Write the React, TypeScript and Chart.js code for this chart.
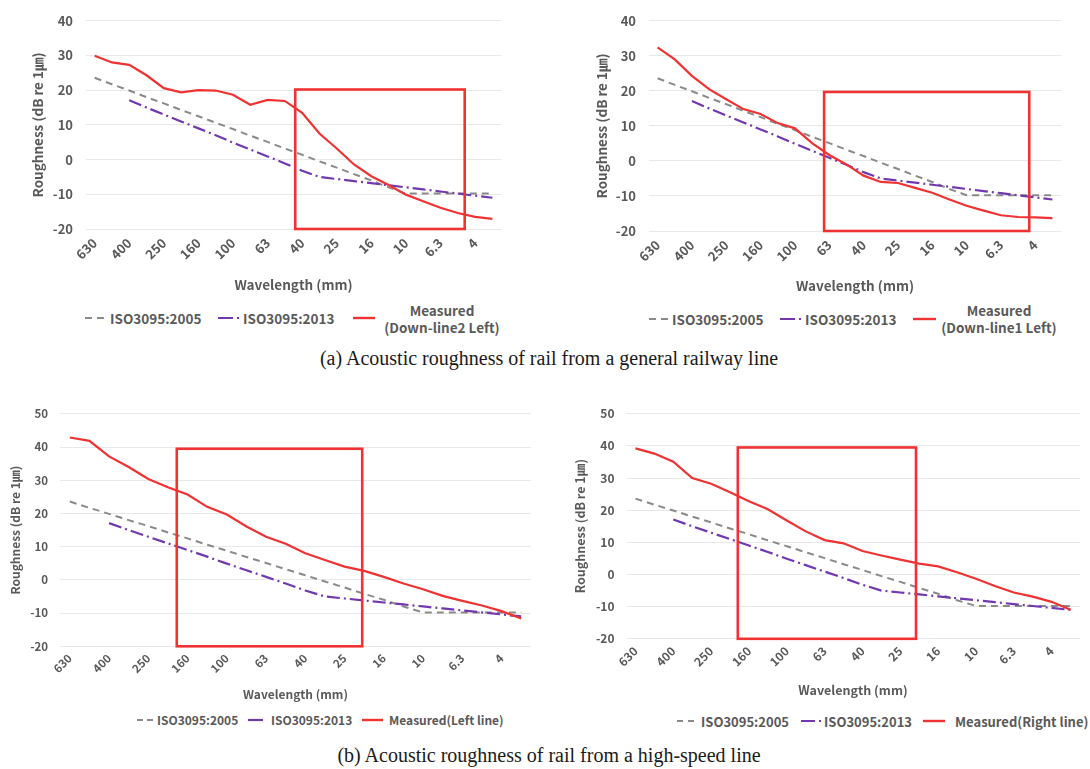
import React, { useEffect, useRef } from "react";
import { Chart, registerables } from "chart.js";

Chart.register(...registerables);

// ---------------- DATA ----------------
const wavelengthLabels = [
  "630", "500", "400", "315", "250", "200", "160", "125", "100", "80", "63", "50",
  "40", "31.5", "25", "20", "16", "12.5", "10", "8", "6.3", "5", "4", "3.15",
];

const iso2005 = [
  23.6, 21.7, 19.9, 18.0, 16.2, 14.3, 12.5, 10.6, 8.8, 6.9, 5.1, 3.2,
  1.4, -0.5, -2.3, -4.2, -6.0, -8.0, -9.8, -9.8, -9.8, -9.8, -9.8, -9.8,
];

const iso2013 = [
  null, null, 17.1, 15.0, 13.0, 11.0, 9.0, 7.0, 4.9, 2.9, 0.9, -1.1,
  -3.2, -5.0, -5.6, -6.2, -6.8, -7.4, -8.0, -8.6, -9.2, -9.8, -10.4, -11.0,
];

const measuredDownLine2Left = [
  29.9, 28.0, 27.3, 24.3, 20.6, 19.4, 20.0, 19.9, 18.7, 15.8, 17.2, 16.9,
  13.5, 7.5, 3.2, -1.4, -4.8, -7.3, -10.1, -12.0, -13.9, -15.4, -16.5, -17.1,
];

const measuredDownLine1Left = [
  32.4, 29.0, 24.3, 20.5, 17.6, 14.8, 13.4, 10.8, 9.3, 5.1, 1.7, -1.0,
  -4.2, -6.0, -6.3, -7.7, -9.1, -11.0, -12.8, -14.2, -15.5, -16.0, -16.1, -16.3,
];

const measuredLeftLine = [
  42.9, 41.9, 37.2, 34.0, 30.4, 27.9, 25.7, 22.0, 19.7, 16.1, 13.0, 10.9,
  8.0, 6.0, 4.0, 2.7, 0.9, -1.1, -2.8, -4.8, -6.3, -7.7, -9.4, -11.6,
];

const measuredRightLine = [
  39.2, 37.6, 35.1, 30.0, 28.2, 25.6, 22.8, 20.3, 16.8, 13.4, 10.7, 9.7,
  7.3, 5.9, 4.6, 3.4, 2.5, 0.7, -1.3, -3.6, -5.6, -6.9, -8.5, -11.0,
];

// highlighted ranges: [from band index, to band index, y from, y to]
const boxDownLine2 = [11.6, 21.4, -20, 20.2];
const boxDownLine1 = [9.7, 21.65, -20, 19.7];
const boxLeftLine = [5.45, 14.9, -20, 39.5];
const boxRightLine = [5.41, 14.83, -20, 39.5];

const yRangeGeneral = [-20, 40];
const yRangeHighSpeed = [-20, 50];

// ---------------- STYLE ----------------
const TEXT = "#595959";
const FONT = "'Noto Sans CJK KR', 'Noto Sans', sans-serif";
const RED = "#f03232";
const GRAY = "#8a8a8a";
const PURPLE = "#7238b0";

const boxPlugin = {
  id: "highlightBox",
  afterDatasetsDraw(chart: any, _args: any, opts: any) {
    const b = opts.range;
    if (!b) return;
    const xs = chart.scales.x;
    const ys = chart.scales.y;
    const x0 = xs.getPixelForValue(b[0]);
    const x1 = xs.getPixelForValue(b[1]);
    const y0 = ys.getPixelForValue(b[2]);
    const y1 = ys.getPixelForValue(b[3]);
    const ctx = chart.ctx;
    ctx.save();
    ctx.strokeStyle = opts.color;
    ctx.lineWidth = opts.width;
    ctx.strokeRect(x0, y1, x1 - x0, y0 - y1);
    ctx.restore();
  },
};

type PanelSpec = {
  measured: number[];
  box: number[];
  yRange: number[];
  canvas: { left: number; top: number; width: number; height: number };
  area: { left: number; right: number; top: number; bottom: number };
  yTitleX: number;
  xTitleY: number;
  tickFont: number;
  titleFont: number;
  yTickPad: number;
  xTickPad: number;
};

const panels: PanelSpec[] = [
  {
    measured: measuredDownLine2Left,
    box: boxDownLine2,
    yRange: yRangeGeneral,
    canvas: { left: 0, top: 0, width: 545, height: 300 },
    area: { left: 86, right: 501, top: 15, bottom: 229 },
    yTitleX: 38,
    xTitleY: 285,
    tickFont: 13,
    titleFont: 13.5,
    yTickPad: 13,
    xTickPad: 6,
  },
  {
    measured: measuredDownLine1Left,
    box: boxDownLine1,
    yRange: yRangeGeneral,
    canvas: { left: 545, top: 0, width: 545, height: 300 },
    area: { left: 649, right: 1061, top: 13.3, bottom: 231 },
    yTitleX: 602,
    xTitleY: 286,
    tickFont: 13,
    titleFont: 13.5,
    yTickPad: 13,
    xTickPad: 6,
  },
  {
    measured: measuredLeftLine,
    box: boxLeftLine,
    yRange: yRangeHighSpeed,
    canvas: { left: 0, top: 395, width: 545, height: 310 },
    area: { left: 60, right: 531, top: 408.3, bottom: 646.3 },
    yTitleX: 15.6,
    xTitleY: 694,
    tickFont: 11.5,
    titleFont: 12,
    yTickPad: 12,
    xTickPad: 5,
  },
  {
    measured: measuredRightLine,
    box: boxRightLine,
    yRange: yRangeHighSpeed,
    canvas: { left: 545, top: 395, width: 545, height: 310 },
    area: { left: 626, right: 1080, top: 409.3, bottom: 638.8 },
    yTitleX: 580,
    xTitleY: 690,
    tickFont: 12,
    titleFont: 12.5,
    yTickPad: 11.5,
    xTickPad: 5,
  },
];

function ChartPanel({ spec }: { spec: PanelSpec }) {
  const ref = useRef<HTMLCanvasElement | null>(null);
  useEffect(() => {
    if (!ref.current) return;
    const c = spec.canvas;
    const lh = spec.titleFont * 1.2;
    const pl = spec.yTitleX - c.left - lh / 2;
    const yW = spec.area.left - c.left - pl;
    const pt = spec.area.top - c.top;
    const pr = c.left + c.width - spec.area.right;
    const xH = spec.xTitleY + lh / 2 - spec.area.bottom;
    const pb = c.top + c.height - (spec.xTitleY + lh / 2);
    const tickFont = { family: FONT, size: spec.tickFont, weight: "bold" as const };
    const titleFont = { family: FONT, size: spec.titleFont, weight: "bold" as const };
    const chart = new Chart(ref.current, {
      type: "line",
      data: {
        labels: wavelengthLabels,
        datasets: [
          {
            label: "Measured",
            data: spec.measured,
            borderColor: RED,
            borderWidth: 2.2,
            pointRadius: 0,
            tension: 0,
            order: 0,
          },
          {
            label: "ISO3095:2013",
            data: iso2013 as any,
            borderColor: PURPLE,
            borderWidth: 2.2,
            borderDash: [13, 4, 2, 4],
            pointRadius: 0,
            tension: 0,
            order: 1,
          },
          {
            label: "ISO3095:2005",
            data: iso2005,
            borderColor: GRAY,
            borderWidth: 2,
            borderDash: [7, 5],
            pointRadius: 0,
            tension: 0,
            order: 2,
          },
        ],
      },
      options: {
        responsive: false,
        animation: false,
        events: [],
        layout: { padding: { left: pl, right: pr, top: pt, bottom: pb } },
        plugins: {
          legend: { display: false },
          tooltip: { enabled: false },
          highlightBox: { range: spec.box, color: RED, width: 2.6 },
        } as any,
        scales: {
          x: {
            offset: true,
            grid: { display: false, drawTicks: false },
            border: { display: false },
            ticks: {
              autoSkip: false,
              maxRotation: 45,
              minRotation: 45,
              padding: spec.xTickPad,
              color: TEXT,
              font: tickFont,
              callback: (_v: any, i: number) => (i % 2 === 0 ? wavelengthLabels[i] : ""),
            },
            title: { display: true, text: "Wavelength (mm)", color: TEXT, font: titleFont, padding: 0 },
            afterFit: (s: any) => {
              s.height = xH;
            },
          },
          y: {
            min: spec.yRange[0],
            max: spec.yRange[1],
            grid: { color: "#e8e8e8", lineWidth: 1, drawTicks: false },
            border: { display: false },
            ticks: { stepSize: 10, padding: spec.yTickPad, color: TEXT, font: tickFont },
            title: { display: true, text: "Roughness (dB re 1㎛)", color: TEXT, font: titleFont, padding: 0 },
            afterFit: (s: any) => {
              s.width = yW;
            },
          },
        },
      },
      plugins: [boxPlugin],
    });
    return () => chart.destroy();
  }, [spec]);
  return (
    <canvas
      ref={ref}
      width={spec.canvas.width}
      height={spec.canvas.height}
      style={{
        position: "absolute",
        left: spec.canvas.left,
        top: spec.canvas.top,
        width: spec.canvas.width,
        height: spec.canvas.height,
      }}
    />
  );
}

type LegendEntry =
  | { kind: "sample"; left: number; y: number; width: number; color: string; dash?: string; thick: number }
  | { kind: "text"; left: number; y: number; size: number; text: string }
  | { kind: "multi"; cx: number; y: number; size: number; lines: string[]; lh: number };

const legendEntries: LegendEntry[] = [
  // top-left
  { kind: "sample", left: 85, y: 318, width: 19, color: GRAY, dash: "7,5", thick: 2 },
  { kind: "text", left: 110, y: 318, size: 13.5, text: "ISO3095:2005" },
  { kind: "sample", left: 218, y: 318, width: 22, color: PURPLE, dash: "15,4,2,30", thick: 2.2 },
  { kind: "text", left: 243, y: 318, size: 13.5, text: "ISO3095:2013" },
  { kind: "sample", left: 353, y: 318, width: 22, color: RED, thick: 2.4 },
  { kind: "multi", cx: 442, y: 318.5, size: 13.5, lines: ["Measured", "(Down-line2 Left)"], lh: 17 },
  // top-right
  { kind: "sample", left: 649, y: 319, width: 19, color: GRAY, dash: "7,5", thick: 2 },
  { kind: "text", left: 672, y: 319, size: 13.5, text: "ISO3095:2005" },
  { kind: "sample", left: 780, y: 319, width: 22, color: PURPLE, dash: "15,4,2,30", thick: 2.2 },
  { kind: "text", left: 805, y: 319, size: 13.5, text: "ISO3095:2013" },
  { kind: "sample", left: 913, y: 319, width: 23, color: RED, thick: 2.4 },
  { kind: "multi", cx: 999, y: 319, size: 13.5, lines: ["Measured", "(Down-line1 Left)"], lh: 17 },
  // bottom-left
  { kind: "sample", left: 137, y: 720, width: 16, color: GRAY, dash: "6,4", thick: 2 },
  { kind: "text", left: 157, y: 720, size: 12, text: "ISO3095:2005" },
  { kind: "sample", left: 248, y: 720, width: 15, color: PURPLE, thick: 2.2 },
  { kind: "text", left: 271, y: 720, size: 12, text: "ISO3095:2013" },
  { kind: "sample", left: 362, y: 720, width: 21, color: RED, thick: 2.4 },
  { kind: "text", left: 389, y: 720, size: 12, text: "Measured(Left line)" },
  // bottom-right
  { kind: "sample", left: 677, y: 721, width: 18, color: GRAY, dash: "6,5", thick: 2 },
  { kind: "text", left: 701, y: 721, size: 13, text: "ISO3095:2005" },
  { kind: "sample", left: 801, y: 721, width: 21, color: PURPLE, dash: "14,4,2,30", thick: 2.2 },
  { kind: "text", left: 824, y: 721, size: 13, text: "ISO3095:2013" },
  { kind: "sample", left: 923, y: 721, width: 22, color: RED, thick: 2.4 },
  { kind: "text", left: 955, y: 721, size: 13, text: "Measured(Right line)" },
];

function Legends() {
  return (
    <>
      {legendEntries.map((e, i) => {
        if (e.kind === "sample") {
          return (
            <svg
              key={i}
              width={e.width}
              height={8}
              style={{ position: "absolute", left: e.left, top: e.y - 4 }}
            >
              <line
                x1={0}
                y1={4}
                x2={e.width}
                y2={4}
                stroke={e.color}
                strokeWidth={e.thick}
                strokeDasharray={e.dash}
              />
            </svg>
          );
        }
        if (e.kind === "text") {
          const lh = Math.round(e.size * 1.3);
          return (
            <div
              key={i}
              style={{
                position: "absolute",
                left: e.left,
                top: e.y - lh / 2,
                height: lh,
                lineHeight: lh + "px",
                fontFamily: FONT,
                fontWeight: "bold",
                fontSize: e.size,
                color: TEXT,
                whiteSpace: "nowrap",
              }}
            >
              {e.text}
            </div>
          );
        }
        return (
          <div
            key={i}
            style={{
              position: "absolute",
              left: e.cx - 90,
              width: 180,
              top: e.y - (e.lh * e.lines.length) / 2,
              lineHeight: e.lh + "px",
              textAlign: "center",
              fontFamily: FONT,
              fontWeight: "bold",
              fontSize: e.size,
              color: TEXT,
              whiteSpace: "nowrap",
            }}
          >
            {e.lines.map((l, j) => (
              <div key={j}>{l}</div>
            ))}
          </div>
        );
      })}
    </>
  );
}

const captions = [
  { text: "(a) Acoustic roughness of rail from a general railway line", y: 358 },
  { text: "(b) Acoustic roughness of rail from a high-speed line", y: 755 },
];

export default function App() {
  return (
    <div
      style={{
        position: "absolute",
        left: 0,
        top: 0,
        width: 1090,
        height: 769,
        background: "#ffffff",
        overflow: "hidden",
      }}
    >
      {panels.map((p, i) => (
        <ChartPanel key={i} spec={p} />
      ))}
      <Legends />
      {captions.map((c, i) => (
        <div
          key={i}
          style={{
            position: "absolute",
            left: 4,
            width: 1090,
            top: c.y - 13,
            height: 26,
            lineHeight: "26px",
            textAlign: "center",
            fontFamily: "'Liberation Serif', 'Times New Roman', serif",
            fontSize: 20,
            color: "#1a1a1a",
          }}
        >
          {c.text}
        </div>
      ))}
    </div>
  );
}
